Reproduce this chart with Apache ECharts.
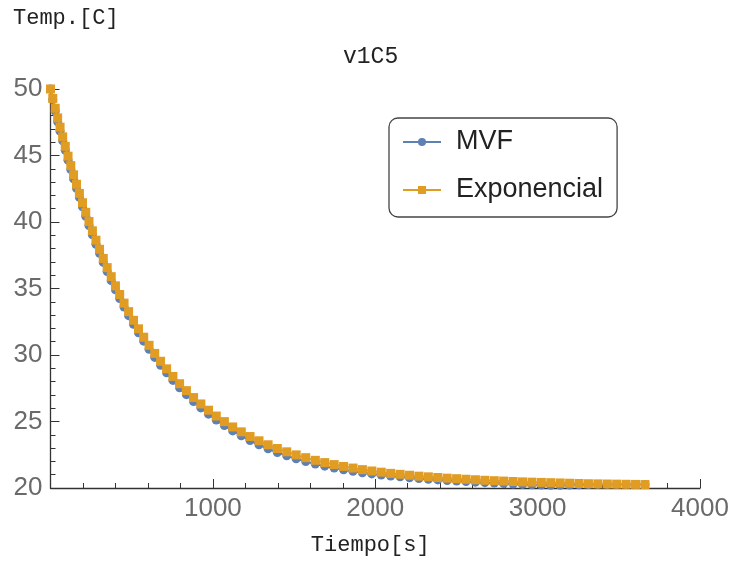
<!DOCTYPE html>
<html>
<head>
<meta charset="utf-8">
<script src="https://cdn.jsdelivr.net/npm/echarts@6/dist/echarts.min.js"></script>
<style>
  html, body { margin: 0; padding: 0; background: #ffffff; }
  #chart { width: 732px; height: 561px; }
</style>
</head>
<body>
<div id="chart"></div>
<script>
// Cooling curve of sample v1C5: temperature [C] against time [s].
// The solver output uses short time steps while the temperature falls fast
// and longer ones as it settles.
const tiempo = [
  0, 14, 29, 44, 59, 75, 91, 108, 125, 142,
  160, 178, 197, 217, 237, 258, 280, 302, 325, 349,
  374, 400, 426, 453, 481, 511, 542, 574, 607, 642,
  678, 715, 754, 795, 837, 881, 926, 973, 1021, 1071,
  1122, 1175, 1229, 1284, 1340, 1397, 1455, 1513, 1572, 1631,
  1689, 1747, 1805, 1863, 1921, 1979, 2037, 2095, 2153, 2211,
  2269, 2327, 2385, 2443, 2501, 2559, 2617, 2675, 2733, 2791,
  2849, 2907, 2965, 3023, 3081, 3139, 3197, 3255, 3313, 3371,
  3429, 3487, 3545, 3603, 3661
];

const tempMVF = [
  50.00, 49.19, 48.35, 47.53, 46.83, 46.10, 45.39, 44.65, 43.94, 43.25,
  42.54, 41.85, 41.15, 40.43, 39.74, 39.04, 38.33, 37.65, 36.96, 36.27,
  35.59, 34.90, 34.25, 33.60, 32.96, 32.31, 31.67, 31.04, 30.43, 29.82,
  29.23, 28.66, 28.09, 27.54, 27.02, 26.50, 26.02, 25.55, 25.11, 24.69,
  24.29, 23.92, 23.57, 23.25, 22.95, 22.67, 22.42, 22.19, 21.99, 21.80,
  21.64, 21.50, 21.37, 21.26, 21.15, 21.06, 20.98, 20.90, 20.84, 20.77,
  20.71, 20.66, 20.61, 20.56, 20.52, 20.48, 20.44, 20.40, 20.37, 20.33,
  20.30, 20.27, 20.24, 20.22, 20.21, 20.21, 20.22, 20.24, 20.26, 20.27,
  20.27, 20.27, 20.27, 20.27, 20.27
];

const tempExponencial = [
  50.00, 49.29, 48.55, 47.83, 47.13, 46.40, 45.69, 44.95, 44.24, 43.55,
  42.84, 42.15, 41.45, 40.73, 40.04, 39.34, 38.63, 37.95, 37.26, 36.57,
  35.89, 35.20, 34.55, 33.90, 33.26, 32.61, 31.97, 31.34, 30.73, 30.12,
  29.53, 28.96, 28.39, 27.84, 27.32, 26.80, 26.32, 25.85, 25.41, 24.99,
  24.59, 24.22, 23.87, 23.55, 23.25, 22.97, 22.72, 22.49, 22.28, 22.08,
  21.91, 21.76, 21.62, 21.50, 21.38, 21.28, 21.19, 21.10, 21.03, 20.96,
  20.89, 20.84, 20.79, 20.74, 20.70, 20.66, 20.62, 20.58, 20.55, 20.52,
  20.49, 20.46, 20.44, 20.42, 20.40, 20.38, 20.36, 20.34, 20.32, 20.31,
  20.30, 20.29, 20.28, 20.27, 20.26
];

const serieNames = ['MVF', 'Exponencial'];
const xTicks = { min: 0, max: 4000, interval: 1000 };
const yTicks = { min: 20, max: 50, interval: 5 };

const pairs = (ys) => tiempo.map((t, i) => [t, ys[i]]);

const monoFont = 'Liberation Mono, Courier New, monospace';
const sansFont = 'Liberation Sans, Arial, sans-serif';
const axisColor = '#333333';
const labelColor = '#6a6a6a';

const chart = echarts.init(document.getElementById('chart'), null, { renderer: 'canvas' });

chart.setOption({
  animation: false,
  backgroundColor: '#ffffff',
  title: [
    {
      text: 'v1C5',
      left: 343,
      top: 45,
      padding: 0,
      textStyle: { fontFamily: monoFont, fontSize: 23, fontWeight: 'normal', color: '#222222', lineHeight: 24 }
    },
    {
      text: 'Temp.[C]',
      left: 13,
      top: 7,
      padding: 0,
      textStyle: { fontFamily: monoFont, fontSize: 22, fontWeight: 'normal', color: '#222222', lineHeight: 22 }
    }
  ],
  legend: {
    data: serieNames,
    orient: 'vertical',
    left: 389,
    top: 118,
    padding: [9, 14, 12, 13],
    itemGap: 18,
    itemWidth: 38,
    itemHeight: 10,
    borderColor: '#444444',
    borderWidth: 1.3,
    borderRadius: 9,
    backgroundColor: '#ffffff',
    textStyle: {
      fontFamily: sansFont,
      fontSize: 27,
      color: '#222222',
      lineHeight: 30,
      padding: [0, 0, 0, 10]
    }
  },
  grid: { left: 50.5, right: 32, top: 89, bottom: 73 },
  xAxis: {
    type: 'value',
    min: xTicks.min,
    max: xTicks.max,
    interval: xTicks.interval,
    name: 'Tiempo[s]',
    nameLocation: 'middle',
    nameGap: 46,
    nameTextStyle: { fontFamily: monoFont, fontSize: 22, color: '#222222', padding: [0, 10, 0, 0] },
    axisLine: { onZero: false, lineStyle: { color: axisColor, width: 1.3 } },
    axisTick: { show: true, inside: true, length: 9, lineStyle: { color: axisColor, width: 1 } },
    minorTick: { show: true, splitNumber: 5, length: 5, lineStyle: { color: axisColor, width: 1 } },
    splitLine: { show: false },
    axisLabel: {
      fontFamily: sansFont,
      fontSize: 26,
      color: labelColor,
      margin: 8,
      formatter: (v) => (v === 0 ? '' : String(v))
    }
  },
  yAxis: {
    type: 'value',
    min: yTicks.min,
    max: yTicks.max,
    interval: yTicks.interval,
    axisLine: { show: true, onZero: false, lineStyle: { color: axisColor, width: 1.3 } },
    axisTick: { show: true, inside: true, length: 9, lineStyle: { color: axisColor, width: 1 } },
    minorTick: { show: true, splitNumber: 5, length: 5, lineStyle: { color: axisColor, width: 1 } },
    splitLine: { show: false },
    axisLabel: {
      fontFamily: sansFont,
      fontSize: 26,
      color: labelColor,
      margin: 8
    }
  },
  series: [
    {
      name: serieNames[0],
      type: 'line',
      data: pairs(tempMVF),
      symbol: 'circle',
      symbolSize: 9,
      showAllSymbol: true,
      color: '#5e81b5',
      lineStyle: { width: 2, color: '#5e81b5' },
      itemStyle: { color: '#5e81b5' },
      clip: false,
      z: 2
    },
    {
      name: serieNames[1],
      type: 'line',
      data: pairs(tempExponencial),
      symbol: 'rect',
      symbolSize: 9,
      showAllSymbol: true,
      color: '#e19c24',
      lineStyle: { width: 2, color: '#e19c24' },
      itemStyle: { color: '#e19c24' },
      clip: false,
      z: 3
    }
  ]
});
</script>
</body>
</html>
